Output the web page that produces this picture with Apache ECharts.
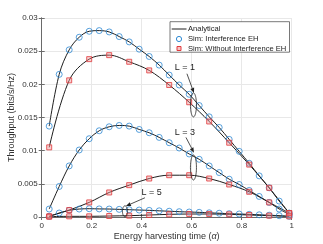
<!DOCTYPE html>
<html><head><meta charset="utf-8">
<script src="https://cdn.jsdelivr.net/npm/echarts@6/dist/echarts.min.js"></script>
<style>html,body{margin:0;padding:0;background:#fff}#c{width:323px;height:244px}</style>
</head><body><div id="c"></div>
<script>
// ---- data ----
const alphaCircle = [0.03,0.07,0.11,0.15,0.19,0.23,0.27,0.31,0.35,0.39,0.43,0.47,0.51,0.55,0.59,0.63,0.67,0.71,0.75,0.79,0.83,0.87,0.91,0.95,0.99];
const alphaSquare = [0.03,0.11,0.19,0.27,0.35,0.43,0.51,0.59,0.67,0.75,0.83,0.91,0.99];
const xTickLabels = ['0','0.2','0.4','0.6','0.8','1'];
const yTickLabels = ['0','0.005','0.01','0.015','0.02','0.025','0.03'];

const L1_interf = [0.0137,0.0215,0.0252,0.0271,0.0280,0.0281,0.0279,0.0272,0.0264,0.0253,0.0242,0.0229,0.0214,0.0199,0.0185,0.0168,0.0151,0.0135,0.0117,0.0099,0.0081,0.0062,0.0044,0.0024,0.0006];
const L1_noInterf = [0.0105,0.0206,0.0238,0.0244,0.0234,0.0221,0.0199,0.0173,0.0144,0.0112,0.0079,0.0044,0.0006];
const L3_interf = [0.0012,0.0046,0.0077,0.0101,0.0118,0.0130,0.0136,0.0138,0.0137,0.0132,0.0127,0.0120,0.0112,0.0104,0.0095,0.0087,0.0077,0.0067,0.0057,0.0049,0.0040,0.0031,0.0022,0.0012,0.0004];
const L3_noInterf = [0.0001,0.00105,0.0022,0.0037,0.0048,0.0058,0.0063,0.0063,0.0058,0.0049,0.0038,0.0022,0.0006];
const L5_interf = [0.0001,0.0006,0.0010,0.0012,0.00125,0.00122,0.0012,0.00115,0.0011,0.00105,0.0010,0.00093,0.00087,0.0008,0.00075,0.0007,0.00063,0.00057,0.0005,0.00045,0.0004,0.00033,0.00027,0.0002,0.0001];
const L5_noInterf = [0.00005,0.0001,0.0001,0.00015,0.0002,0.0003,0.0004,0.00045,0.00045,0.0004,0.0003,0.0002,0.0001];

const NAME_A = 'Analytical', NAME_I = 'Sim: Interference EH', NAME_N = 'Sim: Without Interference EH';
const BLUE = '#2f8ad3', RED = '#e0393c', REDFILL = 'rgba(240,140,140,0.5)', LINE = '#1e1e1e';
const FONT = 'Liberation Sans, Arial, sans-serif';

function pairs(xs, ys){ return xs.map((x,i)=>[x, ys[i]]); }

const chart = echarts.init(document.getElementById('c'), null, {renderer:'canvas'});

const curves = [
  [alphaCircle, L1_interf, 'c'], [alphaSquare, L1_noInterf, 's'],
  [alphaCircle, L3_interf, 'c'], [alphaSquare, L3_noInterf, 's'],
  [alphaCircle, L5_interf, 'c'], [alphaSquare, L5_noInterf, 's']
];
const series = [];
curves.forEach(([xs, ys]) => {
  series.push({name: NAME_A, type:'line', data: pairs(xs, ys), symbol:'none', smooth:0.35,
    lineStyle:{color:LINE, width:1}, itemStyle:{color:LINE}, z:2, silent:true});
});
curves.forEach(([xs, ys, k]) => {
  if (k === 'c') series.push({name: NAME_I, type:'scatter', data: pairs(xs, ys), symbol:'circle', symbolSize:6,
    itemStyle:{color:'rgba(255,255,255,0)', borderColor:BLUE, borderWidth:1}, z:3});
  else series.push({name: NAME_N, type:'scatter', data: pairs(xs, ys), symbol:'rect', symbolSize:5,
    itemStyle:{color:REDFILL, borderColor:RED, borderWidth:1}, z:4});
});

const axisLineStyle = {color:'#6a6a6a', width:1};
chart.setOption({
  animation:false,
  textStyle:{fontFamily:FONT},
  grid:{left:41.7, right:31.3, top:18, bottom:27, containLabel:false, outerBoundsMode:'none'},
  xAxis:[{
    type:'value', min:0, max:1, interval:0.2,
    name:'Energy harvesting time ({i|α})', nameLocation:'middle', nameGap:15, nameMoveOverlap:false,
    nameTextStyle:{fontSize:9, color:'#333', fontFamily:FONT, rich:{i:{fontStyle:'italic', fontSize:9, color:'#333', fontFamily:FONT}}},
    axisLine:{show:true, lineStyle:axisLineStyle}, axisTick:{show:true, inside:true, length:3, lineStyle:axisLineStyle},
    axisLabel:{fontSize:8, color:'#333', margin:5, formatter:(v)=>xTickLabels[Math.round(v/0.2)]},
    splitLine:{show:true, lineStyle:{color:'#e8e8e8', width:1}}
  },{
    type:'value', min:0, max:1, interval:0.2, position:'top',
    axisLine:{show:true, lineStyle:axisLineStyle}, axisTick:{show:true, inside:true, length:3, lineStyle:axisLineStyle},
    axisLabel:{show:false}, splitLine:{show:false}
  }],
  yAxis:[{
    type:'value', min:0, max:0.03, interval:0.005,
    name:'Throughput (bits/s/Hz)', nameLocation:'middle', nameGap:26, nameMoveOverlap:false,
    nameTextStyle:{fontSize:9, color:'#333', fontFamily:FONT},
    axisLine:{show:true, lineStyle:axisLineStyle}, axisTick:{show:true, inside:true, length:3, lineStyle:axisLineStyle},
    axisLabel:{fontSize:8, color:'#333', margin:4, formatter:(v)=>yTickLabels[Math.round(v/0.005)]},
    splitLine:{show:true, lineStyle:{color:'#e8e8e8', width:1}}
  },{
    type:'value', min:0, max:0.03, interval:0.005, position:'right',
    axisLine:{show:true, lineStyle:axisLineStyle}, axisTick:{show:true, inside:true, length:3, lineStyle:axisLineStyle},
    axisLabel:{show:false}, splitLine:{show:false}
  }],
  series: series
});

// ---- annotations (placed in data coordinates) ----
function px(p){ return chart.convertToPixel({xAxisIndex:0, yAxisIndex:0}, p); }
const annotations = [
  {label:'L = 1', text:[0.573,0.0225], from:[0.581,0.0216], to:[0.609,0.0187], ell:[0.607,0.0169], rx:3, ry:12},
  {label:'L = 3', text:[0.573,0.01274], from:[0.577,0.0120], to:[0.609,0.0097], ell:[0.607,0.00746], rx:3, ry:12.5},
  {label:'L = 5', text:[0.44,0.00366], from:[0.413,0.0029], to:[0.337,0.00165], ell:[0.333,0.00086], rx:2.5, ry:5.5}
];
const graphic = [];
function ellipsePts(cx, cy, rx, ry){
  const pts = [];
  for (let k = 0; k < 48; k++){ const t = k/48*Math.PI*2; pts.push([cx + rx*Math.cos(t), cy + ry*Math.sin(t)]); }
  return pts;
}
annotations.forEach(a => {
  const t = px(a.text), f = px(a.from), h = px(a.to), e = px(a.ell);
  graphic.push({type:'text', x:t[0], y:t[1], z:10, style:{text:a.label, fontSize:9, fill:'#222', fontFamily:FONT, align:'center', verticalAlign:'middle'}});
  const dx = h[0]-f[0], dy = h[1]-f[1], len = Math.hypot(dx,dy), ux = dx/len, uy = dy/len;
  const hl = 5, hw = 2;
  const bx = h[0]-ux*hl, by = h[1]-uy*hl;
  graphic.push({type:'line', z:10, shape:{x1:f[0], y1:f[1], x2:bx, y2:by}, style:{stroke:'#222', lineWidth:0.8}});
  graphic.push({type:'polygon', z:10, shape:{points:[[h[0],h[1]],[bx-uy*hw, by+ux*hw],[bx+uy*hw, by-ux*hw]]}, style:{fill:'#222'}});
  graphic.push({type:'polygon', z:10, shape:{points:ellipsePts(e[0], e[1], a.rx, a.ry)}, style:{fill:'none', stroke:'#222', lineWidth:0.8}});
});

// ---- legend (drawn manually to match the box layout) ----
const LX = 170, LY = 21.7, LW = 119.5, LH = 30.5;
const rowY = [29, 39, 48.5];
graphic.push({type:'rect', z:20, shape:{x:LX, y:LY, width:LW, height:LH}, style:{fill:'#fff', stroke:'#555', lineWidth:0.8}});
graphic.push({type:'line', z:21, shape:{x1:171.7, y1:rowY[0], x2:186.5, y2:rowY[0]}, style:{stroke:LINE, lineWidth:1}});
graphic.push({type:'circle', z:21, shape:{cx:179, cy:rowY[1], r:2.6}, style:{fill:'none', stroke:BLUE, lineWidth:1}});
graphic.push({type:'rect', z:21, shape:{x:177, y:rowY[2]-2, width:4, height:4}, style:{fill:REDFILL, stroke:RED, lineWidth:1}});
[NAME_A, NAME_I, NAME_N].forEach((n, i) => {
  graphic.push({type:'text', z:21, x:188, y:rowY[i], style:{text:n, fontSize:7.6, fill:'#222', fontFamily:FONT, align:'left', verticalAlign:'middle'}});
});
chart.setOption({graphic: graphic});
</script>
</body></html>
